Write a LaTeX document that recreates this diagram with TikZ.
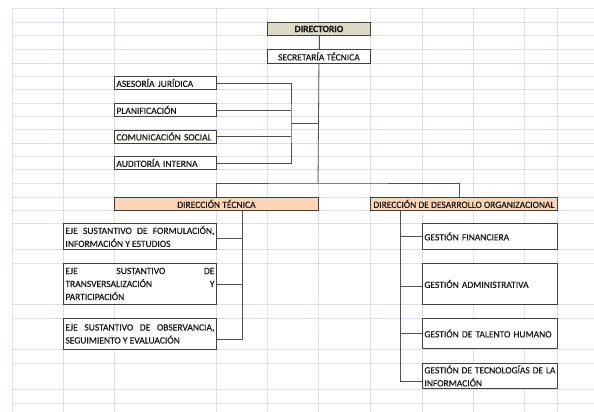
\documentclass[tikz,border=0pt]{standalone}
\usepackage{fontspec}
\setmainfont{Carlito}[FakeBold=0.5]
\usepackage{tikz}
\usetikzlibrary{calc}

\definecolor{gridblue}{HTML}{D9DFEC}
\definecolor{tanfill}{HTML}{DDD9C4}
\definecolor{peach}{HTML}{FCD5B4}
\definecolor{boxline}{HTML}{404040}
\definecolor{connline}{HTML}{505050}

\tikzset{
  gridline/.style = {gridblue, line width = 0.8pt},
  orgbox/.style = {draw = boxline, line width = 0.9pt, fill = white, anchor = north west,
    inner xsep = 2pt, inner ysep = 0pt, font = \fontsize{9.5}{13}\selectfont, text = black!90},
  onebox/.style = {orgbox, align = left, minimum height = 13pt},
  jbox/.style = {orgbox, align = justify},
  conn/.style = {connline, line width = 0.8pt}
}

\begin{document}
\begin{tikzpicture}[x=1pt, y=-1pt]
  \useasboundingbox (0,0) rectangle (594,412);

  % hoja de calculo
  \foreach \y in {8,22,35,49,63,76,89,103,116,129,143,156,169,183,197,210,223,249,263,304,318,349,363,389,403}
    \draw[gridline] (12,\y) -- (594,\y);
  \foreach \x in {12,63,114,216,267,318,370,422,473,524,557}
    \draw[gridline] (\x,8) -- (\x,412);

  % cabeza
  \node[orgbox, fill = tanfill, minimum width = 103pt, minimum height = 13pt, font = \fontsize{9.5}{13}\selectfont\bfseries] (dir) at (267,22) {DIRECTORIO};
  \node[orgbox, minimum width = 103pt, minimum height = 14pt] (sec) at (267,49) {SECRETARÍA TÉCNICA};

  % asesoria
  \node[onebox, text width = 98pt] (ases) at (114,76) {ASESORÍA JURÍDICA};
  \node[onebox, text width = 98pt] (plan) at (114,103) {PLANIFICACIÓN};
  \node[onebox, text width = 98pt] (com) at (114,129.5) {COMUNICACIÓN SOCIAL};
  \node[onebox, text width = 98pt] (aud) at (114,156) {AUDITORÍA INTERNA};

  % direcciones
  \node[orgbox, fill = peach, minimum width = 204pt, minimum height = 13pt] (dt) at (114,197) {DIRECCIÓN TÉCNICA};
  \node[orgbox, fill = peach, inner xsep = 0pt, minimum width = 187pt, minimum height = 13pt] (ddo) at (370,197) {DIRECCIÓN DE DESARROLLO ORGANIZACIONAL};

  % ejes
  \node[jbox, text width = 149pt, minimum height = 26pt] (eje1) at (63,223) {EJE SUSTANTIVO DE FORMULACIÓN,\linebreak INFORMACIÓN Y ESTUDIOS};
  \node[jbox, text width = 149pt, minimum height = 41pt] (eje2) at (63,263) {EJE SUSTANTIVO DE\linebreak TRANSVERSALIZACIÓN Y\linebreak PARTICIPACIÓN};
  \node[jbox, text width = 149pt, minimum height = 31pt] (eje3) at (63,318) {EJE SUSTANTIVO DE OBSERVANCIA,\linebreak SEGUIMIENTO Y EVALUACIÓN};

  % gestiones
  \node[onebox, text width = 131pt, minimum height = 26pt] (gf) at (422,223) {GESTIÓN FINANCIERA};
  \node[onebox, text width = 131pt, minimum height = 41pt] (ga) at (422,263) {GESTIÓN ADMINISTRATIVA};
  \node[onebox, text width = 131pt, minimum height = 30pt] (gth) at (422,318) {GESTIÓN DE TALENTO HUMANO};
  \node[jbox, text width = 131pt, minimum height = 25pt] (gti) at (422,363) {GESTIÓN DE TECNOLOGÍAS DE LA\linebreak INFORMACIÓN};

  % uniones
  \coordinate (split) at (318,183);
  \coordinate (abus) at (291,123);
  \coordinate (dtbus) at (242,210);
  \coordinate (ddobus) at (400,210);

  \draw[conn] (dir.south) -- (sec.north);
  \draw[conn] (sec.south) -- (split);
  \draw[conn] (dt.north) |- (split) -| ([xshift=-4.5pt]ddo.north);

  \draw[conn] (ases.east) -| (abus) |- (aud.east);
  \draw[conn] (plan.east) -- (plan.east -| abus);
  \draw[conn] (com.east) -- (com.east -| abus);
  \draw[conn] (abus) -- (abus -| split);

  \draw[conn] (dtbus) |- ([yshift=-5pt]eje3.east);
  \draw[conn] ([yshift=-1.5pt]eje1.east) -- ([yshift=-1.5pt]eje1.east -| dtbus);
  \draw[conn] (eje2.east) -- (eje2.east -| dtbus);

  \draw[conn] (ddobus) |- ([yshift=-5.5pt]gti.west);
  \draw[conn] (gf.west) -- (gf.west -| ddobus);
  \draw[conn] ([yshift=-2.5pt]ga.west) -- ([yshift=-2.5pt]ga.west -| ddobus);
  \draw[conn] (gth.west) -- (gth.west -| ddobus);
\end{tikzpicture}
\end{document}
